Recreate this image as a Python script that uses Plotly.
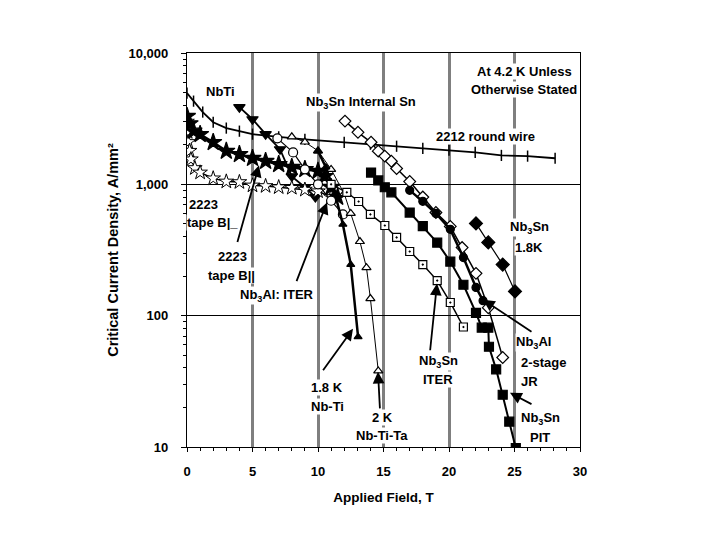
import plotly.graph_objects as go

# ---------------- data (B in tesla, Jc in A/mm^2) ----------------
b2212 = [0, 0.5, 1.2, 2, 3, 4, 5, 7, 9, 12, 14, 16, 18, 20, 22, 24, 26, 28.1]
j2212 = [4950, 4300, 3550, 2970, 2680, 2540, 2410, 2300, 2200, 2090, 2020, 1950, 1880, 1820, 1750, 1660, 1640, 1580]

b_nbti = [4, 5, 6, 7.1, 8, 9, 9.8]
j_nbti = [3870, 3130, 2410, 1850, 1150, 950, 800]

b_nbti18 = [10, 10.6, 11.3, 11.9, 12.5, 13.06]
j_nbti18 = [1790, 1350, 850, 495, 245, 69]

b_nbtita = [8, 9, 10, 11, 12, 12.5, 13.2, 13.7, 14, 14.6]
j_nbtita = [2300, 2100, 1800, 1300, 850, 600, 367, 232, 135, 38]

b_par = [0, 0.2, 0.5, 1, 2, 3, 4, 5, 6, 7, 8, 9, 10, 10.5, 11, 11.5]
j_par = [3300, 2900, 2550, 2400, 2090, 1790, 1690, 1580, 1500, 1420, 1350, 1300, 1260, 1150, 950, 800]

b_perp = [0, 0.05, 0.1, 0.2, 0.3, 0.6, 1, 2, 3, 4, 5, 6, 7, 8, 9, 10, 11]
j_perp = [3000, 2500, 2100, 1800, 1550, 1330, 1230, 1110, 1050, 1040, 980, 970, 950, 940, 910, 885, 800]

b_al_iter = [6.9, 8.1, 9, 10, 11, 11.9]
j_al_iter = [2240, 1750, 1300, 1000, 750, 590]

b_intsn = [12.06, 13.05, 14.05, 14.6, 15.1, 15.6, 16, 17, 18, 19, 20.1, 21, 22.06, 23, 24.1]
j_intsn = [3030, 2490, 2090, 1790, 1640, 1500, 1320, 1050, 800, 610, 478, 330, 210, 115, 48]

b_pit = [14.05, 14.6, 15.1, 15.6, 17, 18, 19.1, 20.1, 21.1, 22.06, 22.5, 23, 23.05, 23.6, 24.1, 24.6, 25.1]
j_pit = [1230, 1070, 950, 870, 610, 480, 360, 258, 172, 105, 81, 81, 58, 39, 25, 15.6, 9.8]

b_sn_iter = [11, 12.2, 13.1, 14, 15.1, 16, 17, 18, 19.1, 20.1, 21.1]
j_sn_iter = [1000, 870, 740, 590, 486, 394, 308, 245, 185, 126, 82]

b_jr = [17, 18, 19, 20.1, 21.1, 22.06, 22.6]
j_jr = [900, 742, 600, 454, 277, 164, 130]

b_sn18 = [22.06, 23, 24.1, 25.04]
j_sn18 = [504, 361, 245, 153]

x_ticks = [0, 5, 10, 15, 20, 25, 30]

FONT = "Liberation Sans, Arial, sans-serif"

fig = go.Figure()


def add(xs, ys, sym, size, lw, fill="black", mlw=1.2):
    fig.add_trace(go.Scatter(
        x=xs, y=ys, mode="lines+markers",
        line=dict(color="black", width=lw),
        marker=dict(symbol=sym, size=size, color=fill,
                    line=dict(color="black", width=mlw)),
        showlegend=False, hoverinfo="skip"))


add(b2212, j2212, "line-ns", 8, 1.8, mlw=1.5)
add(b_nbti, j_nbti, "triangle-down", 10, 1.8)
add(b_perp, j_perp, "star", 11, 1.5, fill="white", mlw=1)
add(b_par, j_par, "star", 13, 2.5)
add(b_al_iter, j_al_iter, "circle", 9, 1.2, fill="white")
add(b_nbtita, j_nbtita, "triangle-up", 8, 1.0, fill="white")
add(b_nbti18, j_nbti18, "triangle-up", 7, 2.5)
add(b_sn_iter, j_sn_iter, "square-dot", 8, 1.5, fill="white")
add(b_intsn, j_intsn, "diamond", 9, 1.5, fill="white")
add(b_jr, j_jr, "circle", 8, 2.5)
add(b_pit, j_pit, "square", 9, 2.0)
add(b_sn18, j_sn18, "diamond", 10, 1.2)

# ------------- annotation placement helpers (pixel -> axis units) -------------


def bx(px):
    return (px - 187) / 13.1


def ly(py):
    return 3 + (185 - py) / 131.0


tf = dict(family=FONT, size=13, color="black", weight="bold")

labels = [
    ("NbTi", 220, 92),
    ("Nb<sub>3</sub>Sn Internal Sn", 361, 103),
    ("At 4.2 K Unless", 524, 72),
    ("Otherwise Stated", 524, 90),
    ("2212 round wire", 485, 137),
    ("2223", 203, 205),
    ("tape B|_", 212, 223),
    ("2223", 232, 257),
    ("tape B||", 231, 276),
    ("Nb<sub>3</sub>Al: ITER", 277, 296),
    ("Nb<sub>3</sub>Sn", 529, 228),
    ("1.8K", 529, 248),
    ("Nb<sub>3</sub>Sn", 438, 362),
    ("ITER", 438, 380),
    ("1.8 K", 327, 388),
    ("Nb-Ti", 327, 407),
    ("2 K", 382, 418),
    ("Nb-Ti-Ta", 382, 436),
    ("Nb<sub>3</sub>Al", 533, 343),
    ("2-stage", 544, 363),
    ("JR", 529, 382),
    ("Nb<sub>3</sub>Sn", 540, 419),
    ("PIT", 540, 438),
]
for t, x, y in labels:
    fig.add_annotation(x=bx(x), y=ly(y), xref="x", yref="y", text=t,
                       showarrow=False, font=tf, bgcolor="white",
                       borderpad=0, xanchor="center", yanchor="middle")

arrows = [
    # (tail px, tail py, head px, head py)
    (237, 244, 259, 166),
    (296, 283, 327, 203),
    (322, 372, 353, 329),
    (380, 410, 378, 372),
    (430, 352, 437, 284),
    (533, 333, 483, 300),
    (533, 405, 510, 393),
]
for x0, y0, x1, y1 in arrows:
    fig.add_annotation(x=bx(x1), y=ly(y1), ax=bx(x0), ay=ly(y0),
                       xref="x", yref="y", axref="x", ayref="y",
                       text="", showarrow=True, arrowhead=2, arrowsize=1.3,
                       arrowwidth=1.8, arrowcolor="black")

fig.update_layout(
    width=720, height=540,
    margin=dict(l=179, r=148, t=45, b=101, pad=0),
    paper_bgcolor="white", plot_bgcolor="white",
    font=dict(family=FONT, size=13, color="black", weight="bold"),
    xaxis=dict(
        range=[0, 30], tickvals=x_ticks, ticks="outside", ticklen=4,
        tickcolor="black", showline=True, linecolor="black", linewidth=1.2,
        mirror=True, showgrid=True, gridcolor="#7f7f7f", gridwidth=2.5,
        zeroline=False, ticklabelstandoff=8,
        tickfont=dict(family=FONT, size=13, color="black", weight="bold"),
        minor=dict(dtick=1, ticks="outside", ticklen=3, tickcolor="black", showgrid=False),
        title=dict(text="Applied Field, T", standoff=14,
                   font=dict(family=FONT, size=13.5, color="black", weight="bold")),
    ),
    yaxis=dict(
        type="log", range=[1, 4], dtick=1, tickformat=",d", ticks="outside",
        ticklen=5, tickcolor="black", showline=True, linecolor="black",
        linewidth=1.2, mirror=True, showgrid=True, gridcolor="black",
        gridwidth=1, zeroline=False, ticklabelstandoff=10,
        tickfont=dict(family=FONT, size=13, color="black", weight="bold"),
        minor=dict(dtick="D1", ticks="outside", ticklen=3, tickcolor="black", showgrid=False),
        title=dict(text="Critical Current Density, A/mm²", standoff=6,
                   font=dict(family=FONT, size=14.5, color="black", weight="bold")),
    ),
)

fig.write_html("out.html")
